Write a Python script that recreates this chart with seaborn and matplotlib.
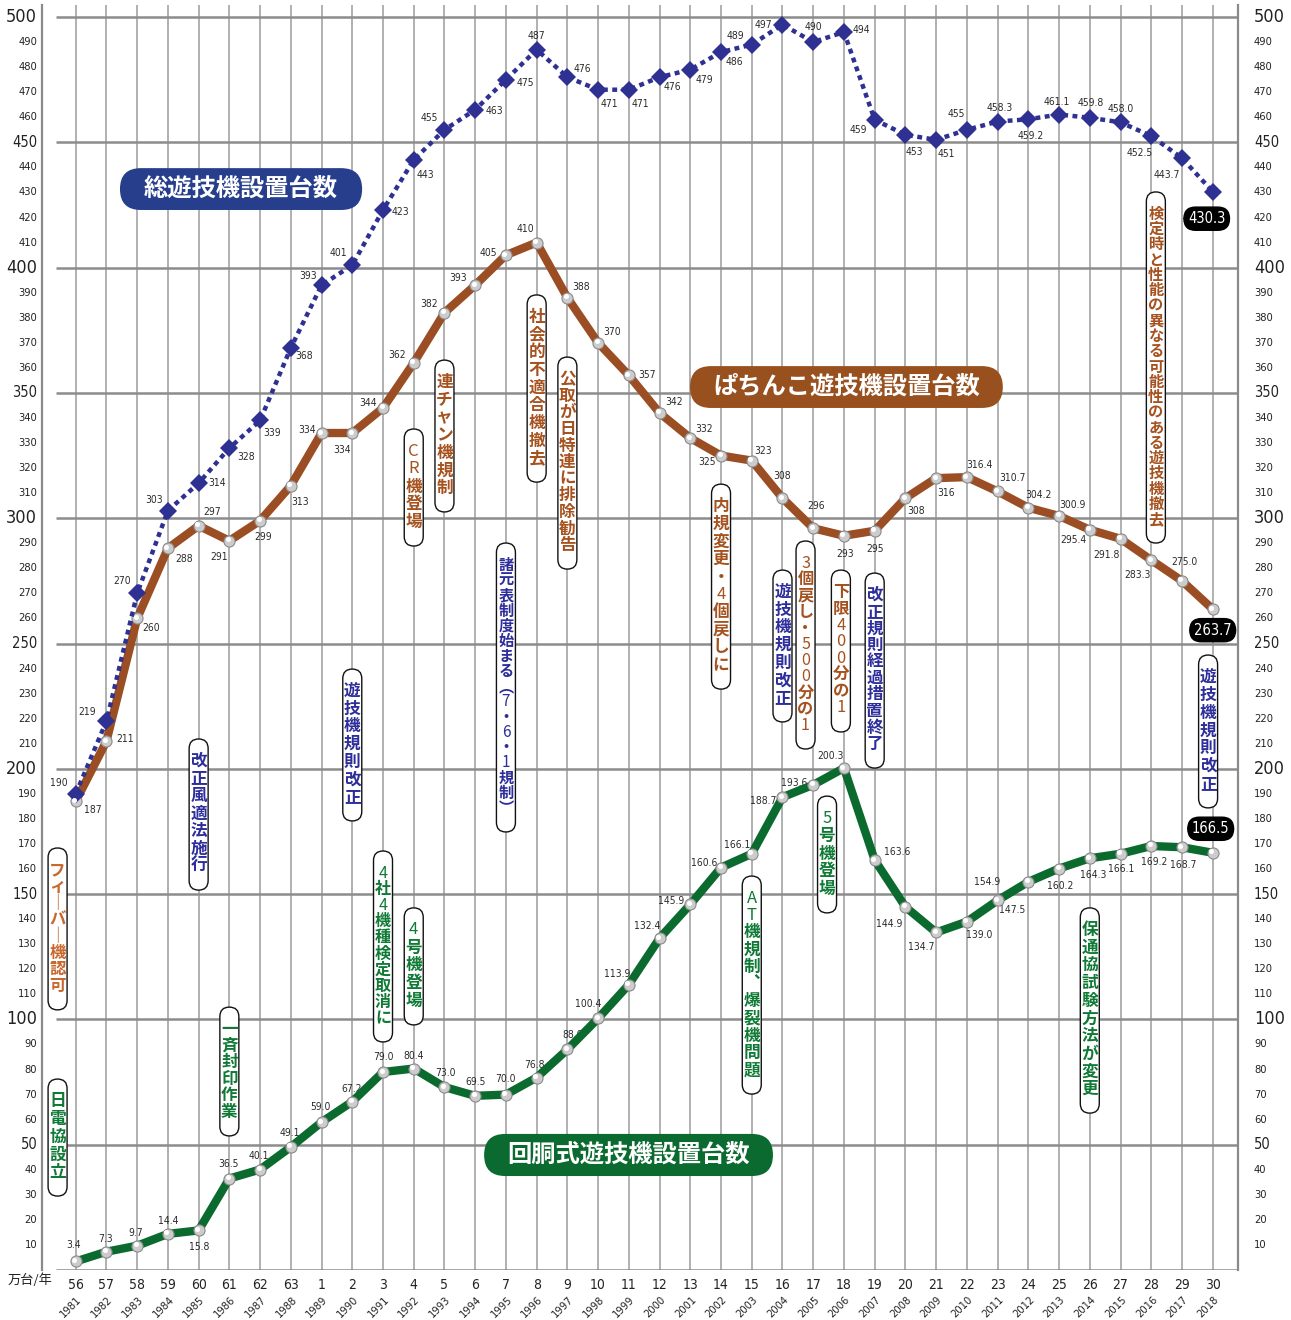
import numpy as np
import pandas as pd
import matplotlib
matplotlib.use("Agg")
import matplotlib.pyplot as plt
import matplotlib.transforms as mtransforms
from matplotlib.patches import FancyBboxPatch
import seaborn as sns

# ---- data (万台) ----
years = list(range(1981, 2019))
era = ["56", "57", "58", "59", "60", "61", "62", "63"] + [str(i) for i in range(1, 31)]
total = [190, 219, 270, 303, 314, 328, 339, 368, 393, 401,
         423, 443, 455, 463, 475, 487, 476, 471, 471, 476,
         479, 486, 489, 497, 490, 494, 459, 453, 451, 455,
         458.3, 459.2, 461.1, 459.8, 458.0, 452.5, 443.7, 430.3]
pachinko = [187, 211, 260, 288, 297, 291, 299, 313, 334, 334,
            344, 362, 382, 393, 405, 410, 388, 370, 357, 342,
            332, 325, 323, 308, 296, 293, 295, 308, 316, 316.4,
            310.7, 304.2, 300.9, 295.4, 291.8, 283.3, 275.0, 263.7]
slot = [3.4, 7.3, 9.7, 14.4, 15.8, 36.5, 40.1, 49.1, 59.0, 67.2,
        79.0, 80.4, 73.0, 69.5, 70.0, 76.8, 88.0, 100.4, 113.9, 132.4,
        145.9, 160.6, 166.1, 188.7, 193.6, 200.3, 163.6, 144.9, 134.7, 139.0,
        147.5, 154.9, 160.2, 164.3, 166.1, 169.2, 168.7, 166.5]

# label offsets in pixels (dx, dy)
total_off = [(-17, 11), (-19, 9), (-15, 12), (-14, 11), (18, 0), (17, -9), (12, -13), (13, -8), (-14, 9), (-14, 12),
             (17, -2), (12, -15), (-15, 12), (19, -1), (19, -3), (0, 14), (15, 8), (11, -14), (12, -14), (13, -10),
             (14, -10), (13, -10), (-16, 9), (-19, 0), (0, 15), (17, 2), (-16, -10), (9, -17), (10, -14), (-11, 16),
             (2, 14), (2, -17), (-2, 13), (1, 15), (0, 13), (-12, -17), (-15, -17)]
pach_off = [(17, -9), (19, 2), (14, -10), (16, -11), (13, 14), (-10, -16), (3, -16), (9, -16), (-15, 3), (-10, -17),
            (-15, 5), (-17, 8), (-15, 9), (-17, 7), (-18, 2), (-11, 14), (14, 11), (14, 11), (18, 0), (14, 11),
            (14, 9), (-14, -6), (11, 10), (0, 22), (3, 22), (1, -18), (0, -18), (11, -13), (10, -15), (13, 12),
            (15, 13), (10, 13), (13, 11), (-16, -10), (-14, -16), (-14, -15), (2, 19)]
slot_off = [(-2, 16), (-1, 13), (-1, 13), (0, 13), (1, -17), (-1, 15), (-1, 14), (-1, 14), (-1, 15), (-1, 13),
            (0, 15), (0, 13), (1, 14), (0, 14), (0, 16), (-2, 13), (5, 14), (-10, 14), (-12, 11), (-12, 12),
            (-19, 3), (-17, 5), (-15, 9), (-19, -4), (-19, 2), (-13, 12), (23, 8), (-16, -17), (-15, -15), (12, -13),
            (15, -10), (-41, 0), (1, -17), (3, -17), (1, -15), (3, -16), (1, -18)]

BLUE = "#2e3192"
BROWN = "#9b4e23"
GREEN = "#0b6a2e"
T_BLUE = "#2d2d9b"
T_BROWN = "#a5521f"
T_ORANGE = "#c8682e"
T_GREEN = "#0f7a35"

notes = [
    ("フィーバー機認可", 1980.41, 168.4, 103.8, T_ORANGE),
    ("日電協設立", 1980.41, 76.2, 29.5, T_GREEN),
    ("改正風適法施行", 1985, 211.9, 151.6, T_BLUE),
    ("一斉封印作業", 1986, 104.9, 53.5, T_GREEN),
    ("遊技機規則改正", 1990, 239.8, 179.2, T_BLUE),
    ("4社4機種検定取消に", 1991, 167.2, 91.0, T_GREEN),
    ("4号機登場", 1992, 144.5, 97.8, T_GREEN),
    ("CR機登場", 1992, 335.6, 288.9, T_BROWN),
    ("連チャン機規制", 1993, 363.1, 302.5, T_BROWN),
    ("諸元表制度始まる(7・6・1規制)", 1995, 290.1, 174.8, T_BLUE),
    ("社会的不適合機撤去", 1996, 389.1, 314.4, T_BROWN),
    ("公取が日特連に排除勧告", 1997, 364.3, 279.7, T_BROWN),
    ("内規変更・4個戻しに", 2002, 313.6, 231.8, T_BROWN),
    ("遊技機規則改正", 2004, 279.3, 218.7, T_BLUE),
    ("3個戻し・500分の1", 2004.75, 290.9, 207.9, T_BROWN),
    ("下限400分の1", 2005.9, 279.3, 214.7, T_BROWN),
    ("改正規則経過措置終了", 2007, 278.1, 200.3, T_BLUE),
    ("5号機登場", 2005.45, 189.1, 142.5, T_GREEN),
    ("AT機規制、爆裂機問題", 2003, 157.2, 70.2, T_GREEN),
    ("保通協試験方法が変更", 2014, 144.5, 62.6, T_GREEN),
    ("検定時と性能の異なる可能性のある遊技機撤去", 2016.15, 430.2, 290.1, T_BROWN),
    ("遊技機規則改正", 2017.85, 245.4, 184.4, T_BLUE),
]

titles = [
    ("総遊技機設置台数", 1982.44, 1990.32, 423.0, 439.7, "#263e8c"),
    ("ぱちんこ遊技機設置台数", 2000.99, 2011.17, 344.0, 360.7, "#98501f"),
    ("回胴式遊技機設置台数", 1994.29, 2003.69, 37.5, 54.3, "#0b6a30"),
]

sns.set_style("white")
plt.rcParams["font.family"] = ["Noto Sans CJK JP", "DejaVu Sans"]
NUM = dict(family="DejaVu Sans", stretch="condensed")

fig = plt.figure(figsize=(12.91, 13.2), dpi=100)
ax = fig.add_axes([42 / 1291, 50 / 1320, 1196 / 1291, 1265 / 1320])
X0, X1 = 1979.903, 2018.823
YTOP = 504.8

PX = YTOP / 1265                       # y units per pixel
ASP = PX / ((X1 - X0) / 1196)          # y/x unit ratio per pixel
GX = 1980.359
ax.vlines(years, 0, YTOP, color="#a3a3a3", lw=1.2, zorder=1)
ax.hlines(np.arange(0, 501, 50), GX, X1, color="#8c8c8c", lw=1.8, zorder=1)

# series
df = pd.DataFrame({"year": years, "total": total, "pachinko": pachinko, "slot": slot})
sns.lineplot(data=df, x="year", y="pachinko", color=BROWN, lw=6, marker="o", markersize=8,
             markerfacecolor="#cccccc", markeredgecolor="#8a8a8a", markeredgewidth=0.8,
             ax=ax, zorder=5, legend=False)
sns.lineplot(data=df, x="year", y="slot", color=GREEN, lw=6, marker="o", markersize=8,
             markerfacecolor="#cccccc", markeredgecolor="#8a8a8a", markeredgewidth=0.8,
             ax=ax, zorder=5, legend=False)
sns.lineplot(data=df, x="year", y="total", color=BLUE, lw=3.2, linestyle=(0, (1.1, 1.0)),
             marker="D", markersize=9, markerfacecolor=BLUE, markeredgecolor=BLUE, markeredgewidth=0,
             ax=ax, zorder=6, legend=False)
hl = mtransforms.offset_copy(ax.transData, fig=fig, x=-1.5, y=1.5, units="dots")
for vals in (pachinko, slot):
    ax.plot(years, vals, "o", ms=2.6, color="white", transform=hl, zorder=7)

ax.set_xlim(X0, X1)
ax.set_ylim(0, YTOP)
ax.set_xticks([])
ax.set_yticks([])
ax.set_xlabel("")
ax.set_ylabel("")
for s in ["top", "bottom"]:
    ax.spines[s].set_visible(False)
for s in ["left", "right"]:
    ax.spines[s].set_color("#8a8a8a")
    ax.spines[s].set_linewidth(1.6)

# axis labels
ytr = ax.get_yaxis_transform()
for v in range(10, 501, 10):
    fs = 13 if v % 100 == 0 else (10.5 if v % 50 == 0 else 8)
    ax.text(-0.004, v, str(v), transform=ytr, ha="right", va="center", fontsize=fs, color="#222222", **NUM)
    ax.text(1.0134, v, str(v), transform=ytr, ha="left", va="center", fontsize=fs, color="#222222", **NUM)
for yr, e in zip(years, era):
    ax.text(yr, -6.0, e, ha="center", va="center", fontsize=10, color="#222222", **NUM)
    ax.text(yr - 0.15, -14.8, str(yr), rotation=45, ha="center", va="center", fontsize=8, color="#222222", **NUM)
fig.text(8 / 1291, 1 - 1280 / 1320, "万台/年", ha="left", va="center", fontsize=9.5, color="#222222")


def put_labels(vals, offs, dec_from, box_off):
    for i, (yr, v) in enumerate(zip(years, vals)):
        if i == len(vals) - 1:
            ax.annotate(f"{v:.1f}", (yr, v), xytext=box_off, textcoords="offset pixels",
                        ha="center", va="center", fontsize=10.5, color="white", zorder=9,
                        bbox=dict(boxstyle="round,pad=0.28,rounding_size=0.8", fc="black", ec="black"), **NUM)
        else:
            s = f"{v:.1f}" if yr >= dec_from else f"{v:.0f}"
            ax.annotate(s, (yr, v), xytext=offs[i], textcoords="offset pixels",
                        ha="center", va="center", fontsize=7.4, color="#2a2a2a", zorder=4, **NUM)


put_labels(total, total_off, 2011, (-6, -27))
put_labels(pachinko, pach_off, 2010, (0, -21))
put_labels(slot, slot_off, 1900, (-2, 24))

# vertical event notes
VERT = {"ー": "｜", "(": "︵", ")": "︶", "、": "︑"}
w = 0.618
for text, x, top, bot, col in notes:
    ax.add_patch(FancyBboxPatch((x - w / 2, bot), w, top - bot,
                                boxstyle=f"round,pad=0,rounding_size={w / 2}", mutation_aspect=ASP,
                                fc="white", ec="#111111", lw=1.0, zorder=3))
    chars = [VERT.get(c, c) for c in text]
    n = len(chars)
    y_first = top - 22 * PX
    y_last = bot + 24 * PX
    step = (y_first - y_last) / (n - 1)
    fs = min(12, step / PX / 1.389 * 1.0)
    for j, c in enumerate(chars):
        ax.text(x, y_first - j * step, c, ha="center", va="center", fontsize=fs, color=col,
                fontweight="normal" if c.isascii() else "bold", zorder=3.5)

# series title badges
for t, xa, xb, ya, yb, col in titles:
    r = (yb - ya) / 2 / ASP
    ax.add_patch(FancyBboxPatch((xa, ya), xb - xa, yb - ya,
                                boxstyle=f"round,pad=0,rounding_size={r}", mutation_aspect=ASP,
                                fc=col, ec="none", zorder=8))
    ax.text((xa + xb) / 2, (ya + yb) / 2, t, color="white", fontsize=17.5, fontweight="bold",
            ha="center", va="center", zorder=9)

fig.savefig("out.png", dpi=100)
